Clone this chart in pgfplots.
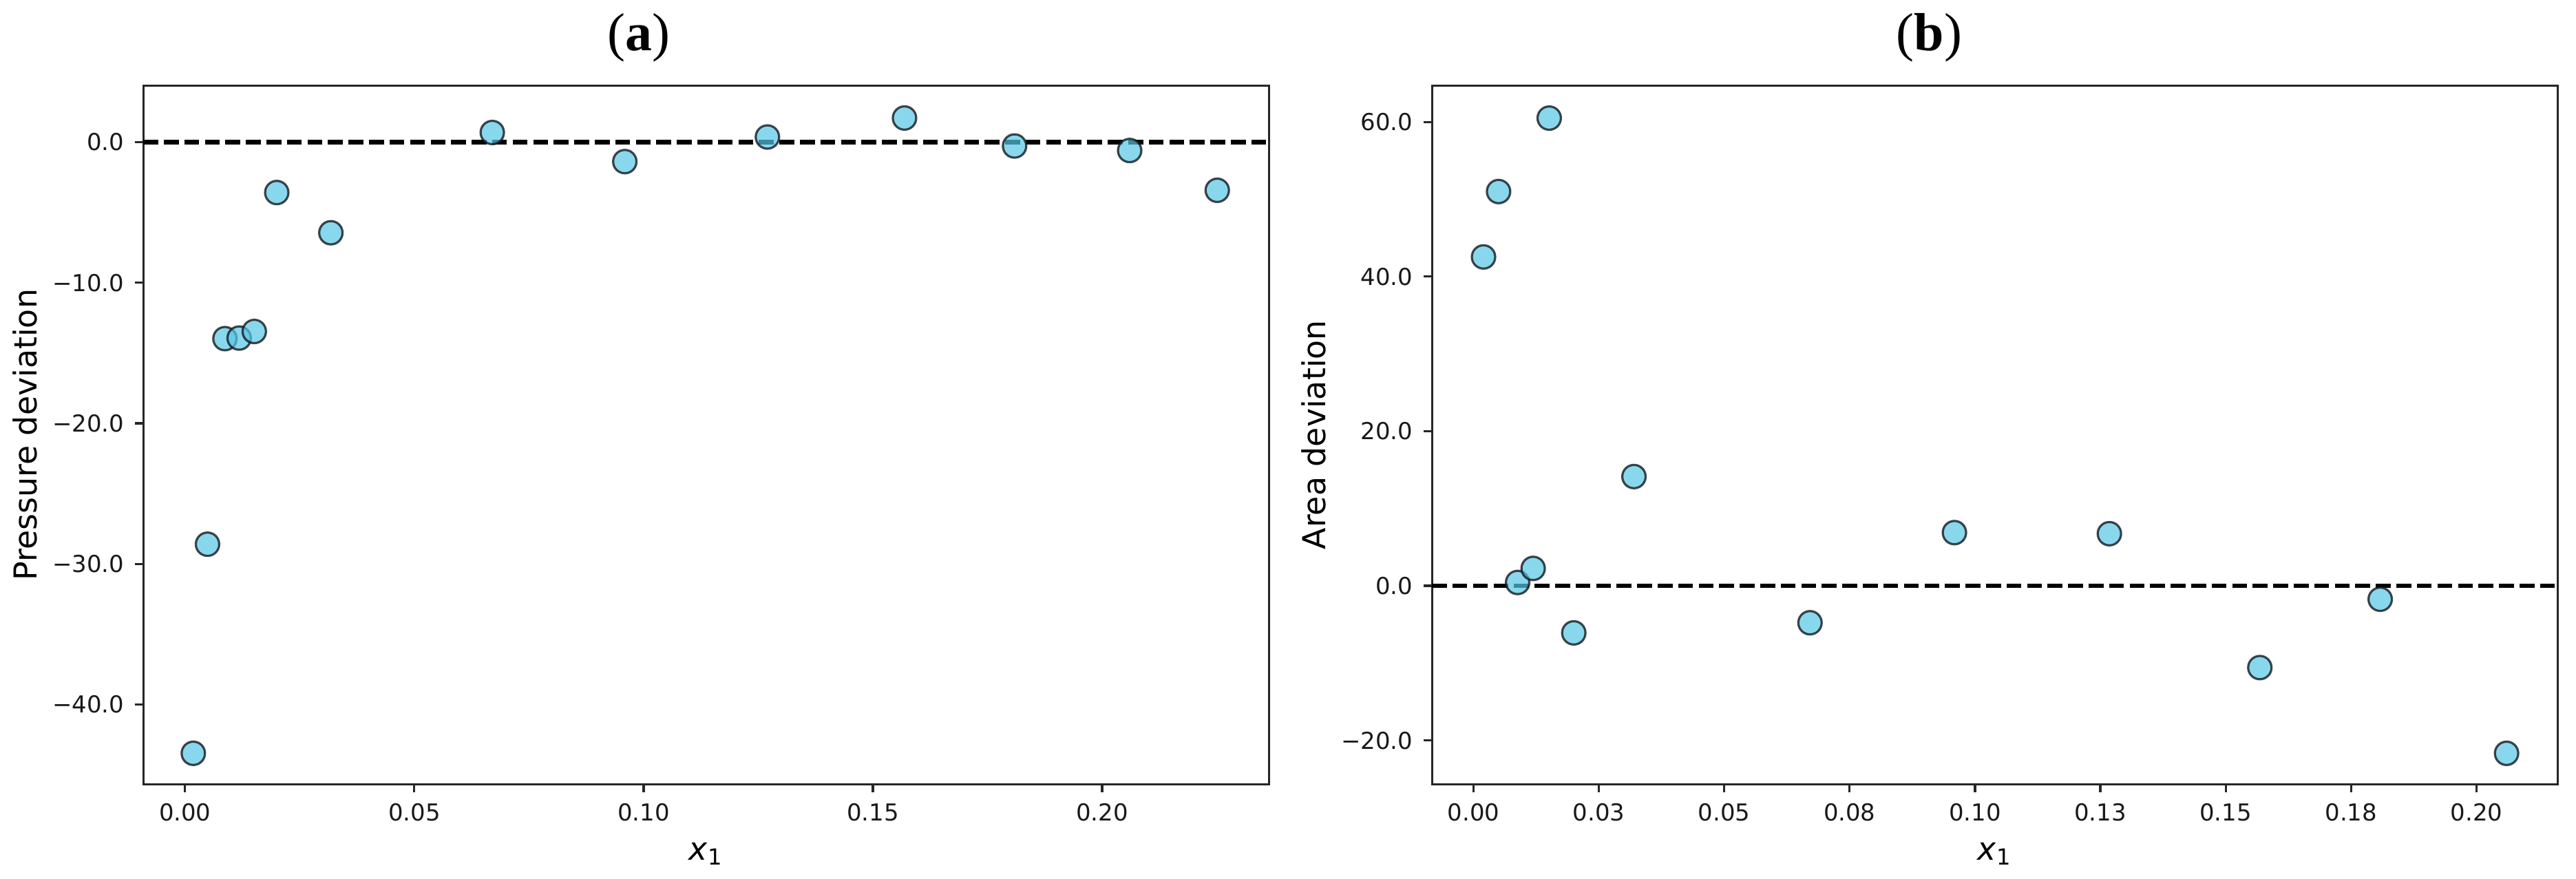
\documentclass[border=0pt]{standalone}
\usepackage{pgfplots}
\pgfplotsset{compat=1.18}
\usepackage{fontspec}
\setmainfont{DejaVu Sans}
\newfontfamily\titlefont{Liberation Serif}
\definecolor{mfill}{RGB}{86,198,229}
\definecolor{medge}{RGB}{20,25,30}

\pgfplotstableread{
x y
0.0018 -43.47
0.0049 -28.60
0.0087 -13.98
0.0118 -13.94
0.0151 -13.47
0.0200 -3.59
0.0318 -6.45
0.0670 0.68
0.0959 -1.39
0.1270 0.36
0.1569 1.71
0.1809 -0.28
0.2060 -0.60
0.2251 -3.43
}\pressuredata

\pgfplotstableread{
x y
0.0020 42.54
0.0050 51.00
0.0088 0.43
0.0119 2.25
0.0151 60.50
0.0200 -6.09
0.0320 14.13
0.0671 -4.78
0.0959 6.88
0.1268 6.74
0.1568 -10.58
0.1808 -1.74
0.2060 -21.67
}\areadata

\pgfplotsset{
  mystyle/.style={
    scale only axis,
    width=356.6pt, height=221.3pt,
    axis line style={line width=0.7pt, black!85},
    tick style={line width=0.7pt, black!85},
    tick align=outside,
    major tick length=2.6pt,
    xtick pos=bottom, ytick pos=left,
    tick label style={font=\fontsize{7.4}{9}\selectfont, text=black!90},
    label style={font=\fontsize{7.8}{9.5}\selectfont, text=black!90},
    every axis y label/.style={at={(axis description cs:-0.105,0.5)}, rotate=90, anchor=center},
    every axis x label/.style={at={(axis description cs:0.5,-0.1)}, anchor=center},
    every axis title/.style={font=\titlefont\fontsize{17}{20}\selectfont, anchor=center},
    clip=true,
  },
  myscatter/.style={only marks, mark=*, mark size=3.7pt,
    mark options={fill=mfill, fill opacity=0.7, draw=medge, draw opacity=0.8, line width=0.7pt}},
  myzero/.style={black, line width=1.4pt, dash pattern=on 4.7pt off 1.8pt},
}

\begin{document}
\begin{tikzpicture}
\path[use as bounding box] (0,0) rectangle (816pt,278.3pt);

\begin{axis}[mystyle,
  at={(45.4pt,29.9pt)}, anchor=south west,
  xmin=-0.0091, xmax=0.2364, ymin=-45.66, ymax=4.02,
  xtick={0,0.05,0.10,0.15,0.20},
  xticklabels={0.00,0.05,0.10,0.15,0.20},
  ytick={-40,-30,-20,-10,0},
  yticklabels={−40.0,−30.0,−20.0,−10.0,0.0},
  xlabel={\textit{x}\textsubscript{1}},
  ylabel={Pressure deviation},
  title={(\textbf{a})},
  title style={at={(axis description cs:0.44,1)}, yshift=15.2pt},
]
\addplot[myscatter] table[x=x,y=y] {\pressuredata};
\addplot[myzero] coordinates {(-0.0091,0) (0.2364,0)};
\end{axis}

\begin{axis}[mystyle,
  at={(453.6pt,29.9pt)}, anchor=south west,
  xmin=-0.00828, xmax=0.2162, ymin=-25.65, ymax=64.71,
  xtick={0,0.025,0.05,0.075,0.10,0.125,0.15,0.175,0.20},
  xticklabels={0.00,0.03,0.05,0.08,0.10,0.13,0.15,0.18,0.20},
  ytick={-20,0,20,40,60},
  yticklabels={−20.0,0.0,20.0,40.0,60.0},
  xlabel={\textit{x}\textsubscript{1}},
  ylabel={Area deviation},
  title={(\textbf{b})},
  title style={at={(axis description cs:0.4417,1)}, yshift=15.2pt},
]
\addplot[myscatter] table[x=x,y=y] {\areadata};
\addplot[myzero] coordinates {(-0.00828,0) (0.2162,0)};
\end{axis}
\end{tikzpicture}
\end{document}
